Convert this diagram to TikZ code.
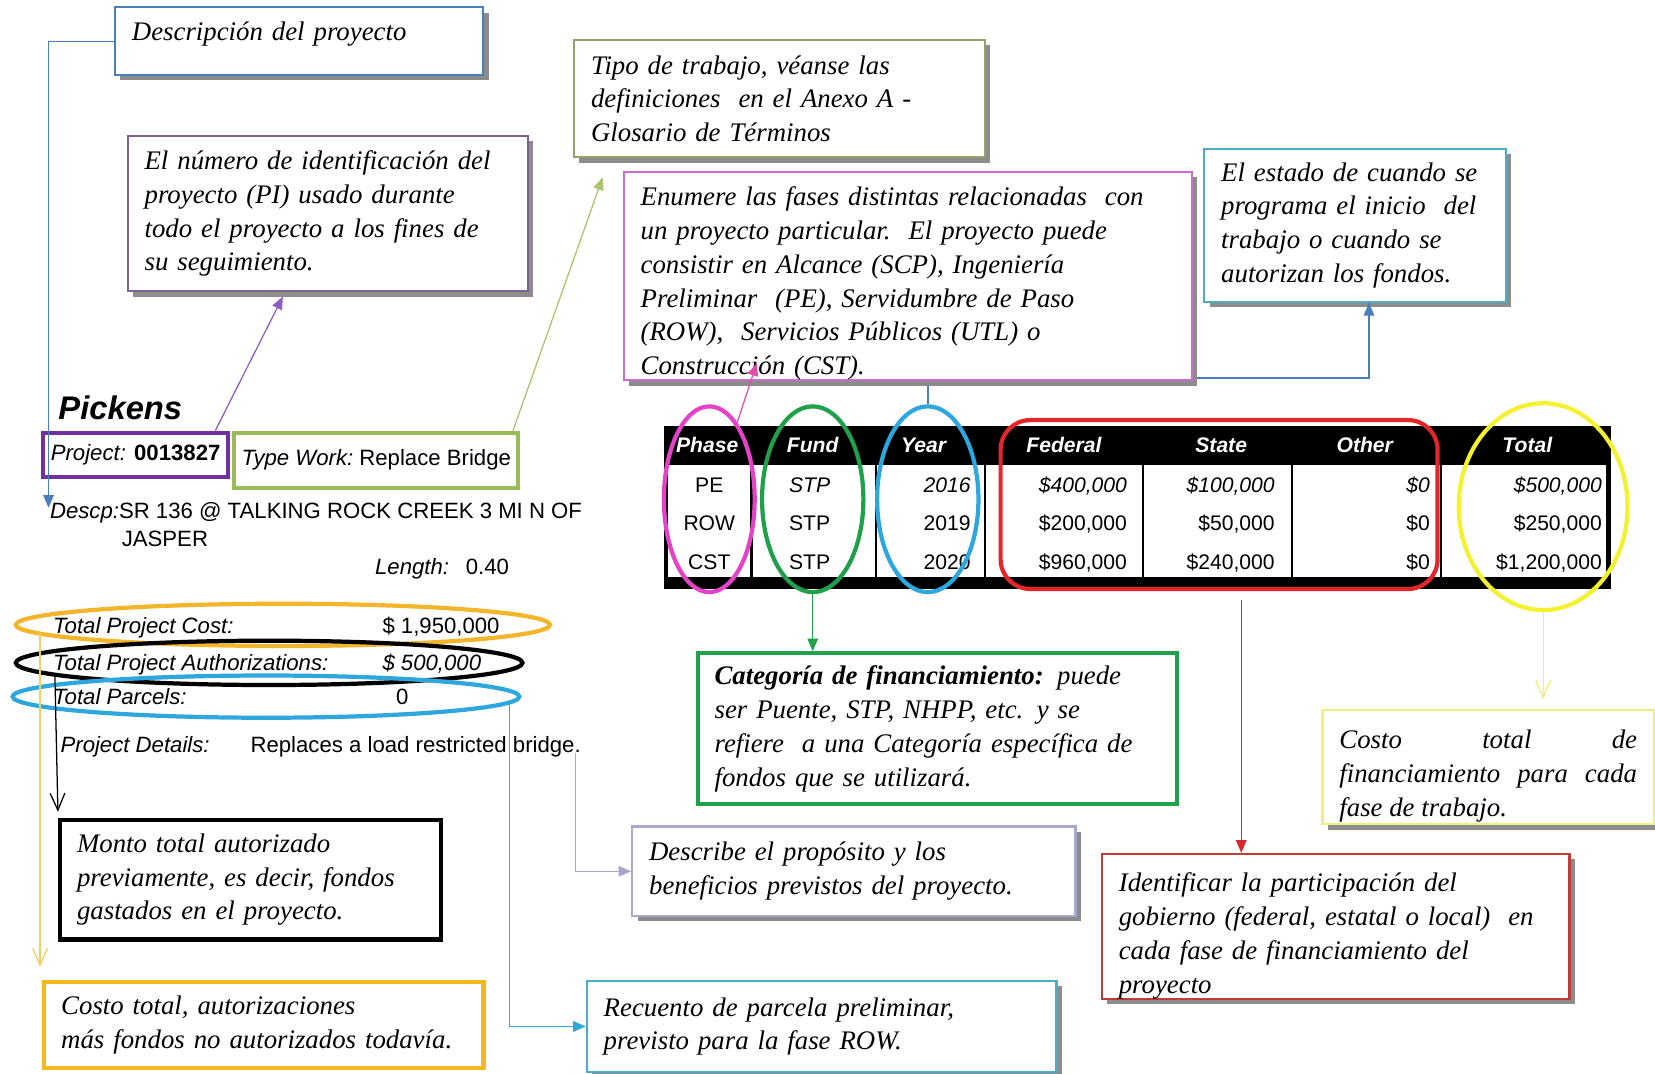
\documentclass[tikz,border=0pt]{standalone}
\usepackage{fontspec}
\setmainfont{Liberation Serif}
\newfontfamily\arial{Liberation Sans}
\usetikzlibrary{arrows.meta,shapes.geometric,shadows,calc}
\newcommand\topgap[1]{\rule{0pt}{#1}}
\newcommand\botgap[1]{\rule[-#1]{0pt}{#1}}
\definecolor{cDesc}{HTML}{4A7EBB}
\definecolor{cPI}{HTML}{7A6291}
\definecolor{cPurpArr}{HTML}{8B5FBF}
\definecolor{cProj}{HTML}{7030A0}
\definecolor{cTipo}{HTML}{9A9F6A}
\definecolor{cOliveArr}{HTML}{A9C46C}
\definecolor{cTW}{HTML}{9BBB59}
\definecolor{cFases}{HTML}{C86DC8}
\definecolor{cPinkArr}{HTML}{E04DA8}
\definecolor{cTeal}{HTML}{4BACC6}
\definecolor{cTealArr}{HTML}{2FA7DA}
\definecolor{cGreen}{HTML}{1FA04B}
\definecolor{cRedBox}{HTML}{C23B3B}
\definecolor{cRedArr}{HTML}{D62828}
\definecolor{cRedRect}{HTML}{E3262A}
\definecolor{cYell}{HTML}{F4F22F}
\definecolor{cYellBox}{HTML}{F2EE7A}
\definecolor{cYellArr}{HTML}{F2EF6A}
\definecolor{cOrange}{HTML}{F3B52A}
\definecolor{cOrangeBox}{HTML}{F2B81D}
\definecolor{cGoldArr}{HTML}{F0D060}
\definecolor{cBlueEll}{HTML}{2EA7DE}
\definecolor{cPink}{HTML}{E443C8}
\definecolor{cLav}{HTML}{A7A7D0}
\definecolor{cLavArr}{HTML}{A9A3CF}
\begin{document}
\begin{tikzpicture}[x=0.5pt,y=-0.5pt,
  note/.style={draw, fill=white, line width=1pt, inner xsep=8pt, inner ysep=0pt,
    anchor=north west, align=left, font=\fontsize{12.7}{16}\selectfont\itshape},
  shad/.style={drop shadow={shadow xshift=2.5pt, shadow yshift=-2.5pt, fill=black!45, opacity=1}},
  sans/.style={font=\arial\fontsize{10.5}{12}\selectfont, inner sep=0pt, anchor=base west},
  hdr/.style={font=\arial\bfseries\itshape\fontsize{10}{12}\selectfont, text=white, inner sep=0pt, anchor=base},
  cell/.style={font=\arial\fontsize{10}{12}\selectfont, inner sep=0pt, anchor=base east},
  cellc/.style={font=\arial\fontsize{10}{12}\selectfont, inner sep=0pt, anchor=base},
  fillarr/.style={-{Triangle[length=6pt,width=5pt]}, line width=0.6pt},
  openarr/.style={-{Straight Barb[length=8pt,width=7pt]}, line width=0.6pt},
  ell/.style={ellipse, draw, line width=2pt, inner sep=0pt}
]
\useasboundingbox (0,0) rectangle (1568,1017);

% ---------- named connector ends ----------
\coordinate (descTip) at (46,481);
\coordinate (piTip) at (268,281);
\coordinate (tipoTip) at (571,168);
\coordinate (fasesTip) at (717,344);
\coordinate (goldStart) at (38,600);
\coordinate (blkStart) at (52,639);
\coordinate (tealStart) at (483,665);
\coordinate (lavStart) at (545,713);
\coordinate (redStart) at (1176,568);

% ---------- upper notes ----------
\node[note, shad, draw=cDesc, minimum width=174.5pt, minimum height=32pt, text width=158.5pt] (desc) at (108,6)
  {Descripción del proyecto\botgap{9.8pt}};
\node[note, shad, draw=cPI, minimum width=189.5pt, minimum height=73.5pt, text width=173.5pt] (pi) at (120,128)
  {El número de identificación del\\proyecto (PI) usado durante\\todo el proyecto a los fines de\\su seguimiento.};
\node[note, shad, draw=cTipo, minimum width=194.5pt, minimum height=55.5pt, text width=178.5pt] (tipo) at (543,37)
  {Tipo de trabajo, véanse las\\definiciones\ \ en el Anexo A -\\Glosario de Términos};
\node[note, shad, draw=cTeal, minimum width=143pt, minimum height=72.5pt, text width=127pt] (estado) at (1140,140)
  {El estado de cuando se\\programa el inicio\ \ del\\trabajo o cuando se\\autorizan los fondos.};

\coordinate (estTip) at ($(estado.south)+(13,0)$);

% ---------- table ----------
\fill[black] (630,405) rectangle (1525,441);
\fill[black] (630,547) rectangle (1525,557);
\draw[line width=2pt] (631,406) rectangle (1524,556);
\foreach \x in {712,830,933,1083,1224,1365} \draw[line width=1pt] (\x,441) -- (\x,547);
\node[hdr] (hPhase) at (670,429) {Phase};
\node[hdr] (hFund) at (770,429) {Fund};
\node[hdr] (hYear) at (875,429) {Year};
\node[hdr] (hFed) at (1008,429) {Federal};
\node[hdr] (hState) at (1157,429) {State};
\node[hdr] (hOther) at (1293,429) {Other};
\node[hdr] (hTotal) at (1447,429) {Total};
% row 1 (italic)
\node[cellc] (p1) at (672,467) {PE};
\node[cellc, font=\arial\itshape\fontsize{10}{12}\selectfont] (f1) at (767,467) {STP};
\node[cell, font=\arial\itshape\fontsize{10}{12}\selectfont] (y1) at (920,467) {2016};
\node[cell, font=\arial\itshape\fontsize{10}{12}\selectfont] (fe1) at (1068,467) {\$400,000};
\node[cell, font=\arial\itshape\fontsize{10}{12}\selectfont] (s1) at (1208,467) {\$100,000};
\node[cell, font=\arial\itshape\fontsize{10}{12}\selectfont] (o1) at (1355,467) {\$0};
\node[cell, font=\arial\itshape\fontsize{10}{12}\selectfont] (t1) at (1518,467) {\$500,000};
% row 2
\node[cellc] (p2) at (672,503) {ROW};
\node[cellc] (f2) at (767,503) {STP};
\node[cell] (y2) at (920,503) {2019};
\node[cell] (fe2) at (1068,503) {\$200,000};
\node[cell] (s2) at (1208,503) {\$50,000};
\node[cell] (o2) at (1355,503) {\$0};
\node[cell] (t2) at (1518,503) {\$250,000};
% row 3
\node[cellc] (p3) at (672,540) {CST};
\node[cellc] (f3) at (767,540) {STP};
\node[cell] (y3) at (920,540) {2020};
\node[cell] (fe3) at (1068,540) {\$960,000};
\node[cell] (s3) at (1208,540) {\$240,000};
\node[cell] (o3) at (1355,540) {\$0};
\node[cell] (t3) at (1518,540) {\$1,200,000};

% ---------- highlight shapes on table ----------
\node[ell, draw=cPink, minimum width=43pt, minimum height=88pt] (cphase) at (672,473) {};
\node[ell, draw=cGreen, minimum width=48pt, minimum height=88pt] (cfund) at (770,473) {};
\node[ell, draw=cBlueEll, minimum width=48pt, minimum height=88pt] (cyear) at (879,473) {};
\node[draw=cRedRect, line width=2pt, rounded corners=14pt, minimum width=207pt, minimum height=80pt, inner sep=0pt] (redrect) at (1155,478) {};
\node[ell, draw=cYell, minimum width=80pt, minimum height=98pt] (cyel) at (1462,480) {};

\draw[cDesc, line width=0.8pt] (cyear.north) |- (estTip |- 0,358) -- (estTip);
\draw[cDesc, fillarr] (estTip |- 0,300) -- (estTip);

\node[note, shad, draw=cFases, minimum width=269pt, minimum height=98pt, text width=253pt] (fases) at (590,162)
  {\topgap{16pt}Enumere las fases distintas relacionadas\ \ con\\un proyecto particular.\ \ El proyecto puede\\consistir en Alcance (SCP), Ingeniería\\Preliminar\ \ (PE), Servidumbre de Paso\\(ROW),\ \ Servicios Públicos (UTL) o\\Construcción (CST).};

% ---------- left column texts ----------
\node[font=\arial\bfseries\itshape\fontsize{15.5}{17}\selectfont, inner sep=0pt, anchor=base west] (pickens) at (55,397) {Pickens};
\node[draw=cProj, line width=2pt, minimum width=87.5pt, minimum height=21pt, inner sep=0pt,
      font=\arial\fontsize{10.5}{12}\selectfont] (proj) at (128.5,431) {\itshape Project: \upshape\bfseries 0013827};
\node[draw=cTW, line width=2pt, minimum width=134.5pt, minimum height=26pt, inner sep=0pt,
      font=\arial\fontsize{10.5}{12}\selectfont] (typework) at (356.5,436) {\raisebox{2pt}{\itshape Type Work:} \raisebox{2pt}{Replace Bridge}};
\node[sans] (descp) at (47,491) {\itshape Descp:\upshape SR 136 @ TALKING ROCK CREEK 3 MI N OF};
\node[sans] (jasper) at (115,518) {JASPER};
\node[sans] (lenlab) at (355,544) {\itshape Length:};
\node[sans] (lenval) at (441,544) {0.40};
\node[sans] (tpc) at (50,600) {\itshape Total Project Cost:};
\node[sans] (tpcv) at (362,600) {\$ 1,950,000};
\node[sans] (tpa) at (50,635) {\itshape Total Project Authorizations:};
\node[sans] (tpav) at (362,635) {\itshape \$ 500,000};
\node[sans] (tpp) at (50,667) {\itshape Total Parcels:};
\node[sans] (tppv) at (375,667) {0};
\node[sans] (pdl) at (57,713) {\itshape Project Details:};
\node[sans] (pdv) at (237,713) {Replaces a load restricted bridge.};

\node[ell, draw=cOrange, minimum width=253pt, minimum height=20pt] (corange) at (268,592) {};
\node[ell, draw=black, minimum width=240pt, minimum height=21pt] (cblack) at (255,628) {};
\node[ell, draw=cBlueEll, minimum width=240pt, minimum height=20pt] (cblue) at (252,660) {};

% ---------- lower notes ----------
\node[note, draw=black, line width=2pt, minimum width=180.5pt, minimum height=56.5pt, text width=164.5pt] (monto) at (55,775)
  {Monto total autorizado\\previamente, es decir, fondos\\gastados en el proyecto.};
\node[note, draw=cOrangeBox, line width=2pt, minimum width=208pt, minimum height=41pt, text width=192pt] (costo) at (40,928)
  {Costo total, autorizaciones\\más fondos no autorizados todavía.};
\node[note, shad, draw=cTeal, minimum width=222.5pt, minimum height=43.5pt, text width=206.5pt] (recuento) at (555,928)
  {Recuento de parcela preliminar,\\previsto para la fase ROW.};
\node[note, shad, draw=cLav, minimum width=210pt, minimum height=42.5pt, text width=194pt] (describe) at (598,782)
  {Describe el propósito y los\\beneficios previstos del proyecto.};
\node[note, draw=cGreen, line width=2pt, minimum width=227pt, minimum height=71.5pt, text width=211pt] (green) at (659,617)
  {{\bfseries Categoría de financiamiento:} puede\\ser Puente, STP, NHPP, etc. y se\\refiere\ \ a una Categoría específica de\\fondos que se utilizará.};
\node[note, shad, draw=cRedBox, minimum width=221.5pt, minimum height=66pt, text width=205.5pt] (redbox) at (1043,808)
  {\topgap{18pt}Identificar la participación del\\gobierno (federal, estatal o local)\ \ en\\cada fase de financiamiento del\\proyecto};
\node[note, shad, draw=cYellBox, align=justify, minimum width=157pt, minimum height=54pt, text width=141pt] (ybox) at (1252,672)
  {\topgap{17pt}Costo total de\linebreak financiamiento para cada\linebreak fase de trabajo.};

% ---------- connectors ----------
\draw[cDesc, fillarr] (desc.west) -| (descTip);
\draw[cPurpArr, fillarr] ($(proj.north east)+(-14,0)$) -- (piTip);
\draw[cOliveArr, fillarr] ($(typework.north east)+(-7,0)$) -- (tipoTip);
\draw[cPinkArr, fillarr] (cphase.70) -- (fasesTip);
\draw[cGreen, fillarr] (cfund.south) -- (green.north -| cfund.south);
\draw[cRedArr, fillarr] (redStart) -- (redbox.north -| redStart);
\draw[cYellArr, openarr, shorten >=5pt] (cyel.south) -- (ybox.north -| cyel.south);
\draw[cGoldArr, openarr, shorten >=6pt] (goldStart) -- (costo.north -| goldStart);
\draw[black, openarr, shorten >=3pt] (blkStart) -- (monto.north west);
\draw[cTealArr, fillarr] (tealStart) |- (recuento.west);
\draw[cLavArr, fillarr] (lavStart) |- (describe.west);
\end{tikzpicture}
\end{document}
